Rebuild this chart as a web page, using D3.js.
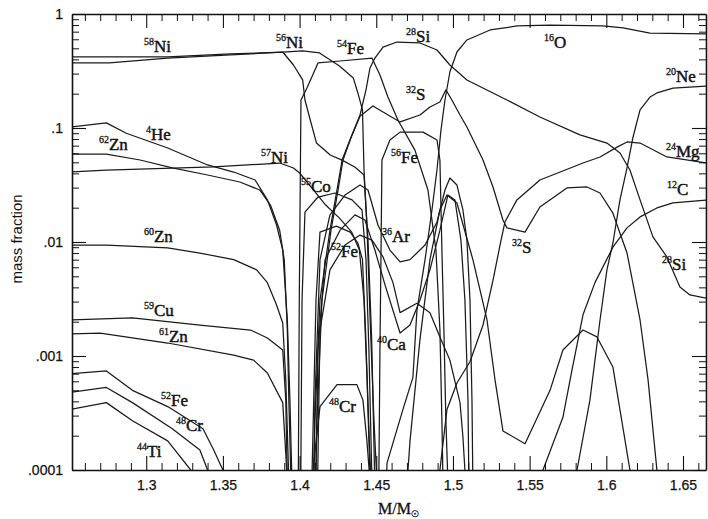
<!DOCTYPE html>
<html>
<head>
<meta charset="utf-8">
<script src="https://cdn.jsdelivr.net/npm/d3@7"></script>
<style>
  html, body { margin: 0; padding: 0; background: #fff; }
  svg { display: block; }
</style>
</head>
<body>
<svg id="chart" width="708" height="519"></svg>
<script>
// Mass-fraction profiles against enclosed mass M/M☉ (log scale).
// Each profile is a list of [mass coordinate, mass fraction] pairs.
const ni56 = [[1.251,0.42],[1.276,0.42],[1.314,0.42],[1.355,0.446],[1.389,0.464],[1.402,0.474],[1.413,0.455],[1.426,0.35],[1.435,0.275],[1.438,0.203],[1.441,0.144],[1.442,0.043],[1.444,0.0128],[1.446,0.0021],[1.4485,0.00027],[1.4504,0.00008],[1.452,1e-5]];
const ni58 = [[1.251,0.372],[1.276,0.372],[1.314,0.411],[1.355,0.437],[1.389,0.464],[1.396,0.357],[1.402,0.264],[1.4035,0.176],[1.407,0.117],[1.411,0.074],[1.420,0.058],[1.428,0.052],[1.436,0.0455],[1.442,0.0387],[1.4446,0.0104],[1.447,0.0014],[1.449,0.00008],[1.450,1e-5]];
const he4 = [[1.251,0.102],[1.274,0.111],[1.287,0.090],[1.314,0.0668],[1.340,0.0474],[1.357,0.0411],[1.371,0.035],[1.379,0.0234],[1.385,0.0141],[1.389,0.0085],[1.392,0.00207],[1.3937,0.00041],[1.395,0.00008],[1.396,1e-5]];
const zn62 = [[1.251,0.059],[1.274,0.059],[1.296,0.0524],[1.317,0.0446],[1.340,0.0387],[1.361,0.0336],[1.374,0.0286],[1.381,0.0211],[1.387,0.0127],[1.390,0.007],[1.392,0.00169],[1.393,0.00041],[1.3944,0.00008],[1.396,1e-5]];
const ni57 = [[1.251,0.0411],[1.274,0.0428],[1.344,0.0455],[1.387,0.0493],[1.396,0.0446],[1.400,0.0403],[1.409,0.0286],[1.417,0.0211],[1.426,0.0162],[1.434,0.0122],[1.439,0.0085],[1.442,0.0031],[1.444,0.00062],[1.446,0.00008],[1.447,1e-5]];
const zn60 = [[1.251,0.0094],[1.274,0.0094],[1.314,0.0089],[1.335,0.008],[1.357,0.007],[1.372,0.0057],[1.379,0.0044],[1.385,0.0028],[1.389,0.00195],[1.391,0.00062],[1.393,0.00008],[1.394,1e-5]];
const cu59 = [[1.251,0.00207],[1.291,0.00216],[1.335,0.00187],[1.368,0.00169],[1.379,0.00144],[1.389,0.00113],[1.391,0.00041],[1.392,0.00008],[1.393,1e-5]];
const zn61 = [[1.251,0.00156],[1.270,0.00159],[1.314,0.0013],[1.357,0.00102],[1.370,0.00092],[1.379,0.00071],[1.389,0.00039],[1.3905,0.00018],[1.392,0.00008],[1.393,1e-5]];
const fe52 = [[1.251,0.0007],[1.274,0.00074],[1.291,0.0005],[1.314,0.00036],[1.337,0.00023],[1.344,0.00015],[1.350,0.0001],[1.355,4e-5],[1.360,1e-5],[1.407,1e-5],[1.408,0.00008],[1.4107,0.0031],[1.4133,0.0122],[1.424,0.0138],[1.433,0.0122],[1.438,0.0098],[1.441,0.007],[1.443,0.00169],[1.445,0.00027],[1.4465,0.00008],[1.448,1e-5]];
const cr48 = [[1.251,0.00048],[1.274,0.00053],[1.291,0.00039],[1.317,0.00023],[1.335,0.00015],[1.340,0.0001],[1.345,1e-5],[1.408,1e-5],[1.4087,0.0001],[1.4133,0.00036],[1.4244,0.00056],[1.4374,0.00056],[1.4413,0.00041],[1.4439,0.00018],[1.4459,0.00008],[1.447,1e-5]];
const ti44 = [[1.251,0.00034],[1.274,0.00039],[1.291,0.00027],[1.314,0.00018],[1.329,0.0001],[1.336,1e-5]];
const fe54 = [[1.3985,1e-5],[1.3992,0.0001],[1.3998,0.0031],[1.4009,0.176],[1.4048,0.224],[1.412,0.372],[1.4264,0.387],[1.4472,0.411],[1.4524,0.292],[1.4576,0.187],[1.4642,0.117],[1.4752,0.064],[1.4837,0.0286],[1.4889,0.0085],[1.4915,0.00169],[1.4928,0.00027],[1.4935,0.00008],[1.495,1e-5]];
const fe56 = [[1.4511,1e-5],[1.4524,0.00113],[1.4531,0.0085],[1.4537,0.0524],[1.4589,0.0785],[1.4655,0.092],[1.4805,0.092],[1.4896,0.0785],[1.4915,0.0524],[1.4928,0.0085],[1.4941,0.00169],[1.4954,0.00027],[1.4967,0.00008],[1.498,1e-5]];
const co55 = [[1.4003,1e-5],[1.4016,0.0031],[1.4035,0.0183],[1.412,0.0248],[1.4231,0.0269],[1.4342,0.0234],[1.4407,0.0191],[1.4433,0.007],[1.4452,0.00113],[1.4472,0.00008],[1.449,1e-5]];
const si28 = [[1.4081,1e-5],[1.41,0.00027],[1.4133,0.0031],[1.4198,0.0127],[1.4244,0.0286],[1.4277,0.0524],[1.4329,0.079],[1.4394,0.13],[1.4433,0.216],[1.4459,0.336],[1.4491,0.411],[1.4544,0.513],[1.4635,0.568],[1.4785,0.557],[1.4896,0.483],[1.498,0.357],[1.5091,0.264],[1.5352,0.176],[1.5567,0.125],[1.5828,0.087],[1.6004,0.0738],[1.6089,0.0604],[1.6154,0.0428],[1.622,0.0234],[1.6304,0.0111],[1.6395,0.0074],[1.648,0.00403],[1.6545,0.00343],[1.666,0.0032]];
const s32 = [[1.4094,1e-5],[1.4113,0.00027],[1.4146,0.0031],[1.4205,0.0127],[1.4251,0.0286],[1.4283,0.0524],[1.4335,0.082],[1.4394,0.127],[1.4478,0.156],[1.4544,0.138],[1.4655,0.113],[1.4785,0.13],[1.485,0.153],[1.4915,0.169],[1.4954,0.216],[1.4993,0.176],[1.5046,0.13],[1.5091,0.102],[1.5196,0.0524],[1.5261,0.0304],[1.5326,0.0156],[1.5352,0.0133],[1.547,0.0122],[1.5567,0.0203],[1.5743,0.0298],[1.5874,0.0304],[1.5959,0.0269],[1.6043,0.0179],[1.6135,0.008],[1.622,0.00207],[1.6272,0.00062],[1.633,0.0001],[1.635,1e-5]];
const ar36 = [[1.4081,1e-5],[1.41,0.00041],[1.4133,0.007],[1.4198,0.0173],[1.4296,0.0258],[1.4394,0.0316],[1.4446,0.0286],[1.4511,0.0141],[1.4589,0.0085],[1.4655,0.0067],[1.472,0.007],[1.4818,0.0094],[1.4896,0.015],[1.4948,0.0286],[1.498,0.0364],[1.5026,0.0316],[1.5065,0.0191],[1.5091,0.0104],[1.5111,0.0031],[1.5124,0.00041],[1.5137,1e-5]];
const ar38 = [[1.4107,1e-5],[1.4133,0.00169],[1.4198,0.0057],[1.4296,0.0094],[1.4394,0.0115],[1.4472,0.0104],[1.4544,0.0074],[1.4609,0.0044],[1.4655,0.0024],[1.4765,0.0029],[1.485,0.0024],[1.4915,0.00147],[1.498,0.00092],[1.5046,0.00039],[1.5065,0.000195],[1.5078,0.0001],[1.5085,1e-5]];
const ca40 = [[1.4094,1e-5],[1.412,0.00113],[1.4166,0.007],[1.4264,0.0127],[1.4361,0.0173],[1.4426,0.0156],[1.4491,0.0085],[1.4557,0.0042],[1.4655,0.00159],[1.472,0.00187],[1.4785,0.0031],[1.485,0.0057],[1.4915,0.0127],[1.4967,0.0258],[1.5013,0.0234],[1.5052,0.0104],[1.5078,0.0031],[1.5098,0.00041],[1.5111,1e-5]];
const si30 = [[1.4655,1e-5],[1.472,0.00018],[1.4785,0.0014],[1.485,0.007],[1.4915,0.0191],[1.4961,0.0258],[1.5026,0.022],[1.513,0.007],[1.5222,0.00207],[1.5274,0.00062],[1.5326,0.00022],[1.547,0.00017],[1.5633,0.0005],[1.5717,0.00113],[1.5848,0.00169],[1.5939,0.00147],[1.6043,0.0008],[1.6154,0.0001],[1.6167,1e-5]];
const o16 = [[1.4544,1e-5],[1.457,0.000115],[1.4674,0.00034],[1.4739,0.00065],[1.4765,0.0025],[1.4818,0.007],[1.4863,0.0191],[1.4896,0.043],[1.4922,0.096],[1.4948,0.176],[1.498,0.31],[1.5026,0.464],[1.5091,0.592],[1.5242,0.724],[1.5417,0.785],[1.5633,0.80],[1.5978,0.785],[1.6109,0.754],[1.6285,0.681],[1.666,0.668]];
const mg24 = [[1.4889,1e-5],[1.4915,0.0001],[1.4961,0.00034],[1.5026,0.00058],[1.5111,0.00089],[1.5196,0.00187],[1.5261,0.0046],[1.5307,0.0094],[1.5339,0.015],[1.5417,0.0234],[1.5567,0.035],[1.5848,0.0493],[1.5959,0.0557],[1.607,0.068],[1.6135,0.0754],[1.622,0.0738],[1.6395,0.0557],[1.666,0.0493]];
const ne20 = [[1.5796,1e-5],[1.5809,0.0001],[1.5893,0.00041],[1.5959,0.00207],[1.6004,0.0057],[1.6043,0.0098],[1.6089,0.0234],[1.6135,0.0446],[1.6174,0.083],[1.622,0.144],[1.6285,0.187],[1.633,0.203],[1.6435,0.224],[1.666,0.234]];
const c12 = [[1.5567,1e-5],[1.5587,0.0001],[1.5717,0.00029],[1.5776,0.00075],[1.5848,0.0023],[1.5926,0.0044],[1.6043,0.009],[1.6135,0.0133],[1.622,0.0166],[1.633,0.0199],[1.6435,0.022],[1.666,0.0234]];

const profiles = [ni56, ni58, he4, zn62, ni57, zn60, cu59, zn61, fe52, cr48, ti44,
                  fe54, fe56, co55, si28, s32, ar36, ar38, ca40, si30, o16, mg24, ne20, c12];

// Isotope labels: [mass number, element, M, mass fraction at label baseline]
const isoLabels = [
  ["58","Ni",1.2985,0.464], ["56","Ni",1.3846,0.503], ["54","Fe",1.4244,0.446],
  ["28","Si",1.4694,0.568], ["16","O",1.5594,0.503], ["20","Ne",1.6389,0.253],
  ["32","S",1.4694,0.176], ["4","He",1.2998,0.0785], ["62","Zn",1.2692,0.064],
  ["57","Ni",1.3748,0.0493], ["56","Fe",1.4596,0.0493], ["24","Mg",1.6389,0.0557],
  ["55","Co",1.4009,0.0275], ["12","C",1.6396,0.0258], ["60","Zn",1.2985,0.01],
  ["36","Ar",1.4537,0.01], ["52","Fe",1.4205,0.0074], ["32","S",1.5385,0.008],
  ["28","Si",1.6363,0.0057], ["59","Cu",1.2985,0.00224], ["61","Zn",1.3083,0.00133],
  ["40","Ca",1.4505,0.00113], ["48","Cr",1.4192,0.000323], ["52","Fe",1.3096,0.000364],
  ["48","Cr",1.3194,0.00022], ["44","Ti",1.294,0.00013]
];

const xTicks = [1.3, 1.35, 1.4, 1.45, 1.5, 1.55, 1.6, 1.65];
const xTickLabels = ["1.3", "1.35", "1.4", "1.45", "1.5", "1.55", "1.6", "1.65"];
const yTicks = [1, 0.1, 0.01, 0.001, 0.0001];
const yTickLabels = ["1", ".1", ".01", ".001", ".0001"];

const svg = d3.select("#chart");
const L = 72, R = 706, T = 14, B = 470;

const x = d3.scaleLinear().domain([1.2516, 1.665]).range([L, R]);
const y = d3.scaleLog().domain([1e-4, 1]).range([B, T]);

const xMinor = d3.range(126, 167).map(v => v / 100).filter(v => !xTicks.some(t => Math.abs(t - v) < 1e-9));
const yMinor = [];
[1e-4, 1e-3, 1e-2, 1e-1].forEach(dec => { for (let k = 2; k <= 9; k++) yMinor.push(k * dec); });

svg.append("defs").append("clipPath").attr("id", "plotClip")
  .append("rect").attr("x", L).attr("y", T).attr("width", R - L).attr("height", B - T);

// Profiles
const line = d3.line().x(d => x(d[0])).y(d => y(d[1]));
svg.append("g").attr("clip-path", "url(#plotClip)")
  .selectAll("path").data(profiles).join("path")
  .attr("d", line)
  .attr("fill", "none")
  .attr("stroke", "#1a1a1a")
  .attr("stroke-width", 1.25)
  .attr("stroke-linejoin", "round");

// Axes with inward ticks on all four sides
function styleAxis(g) {
  g.selectAll("path.domain").attr("stroke", "#111").attr("stroke-width", 1.6);
  g.selectAll(".tick line").attr("stroke", "#111").attr("stroke-width", 1.1);
  g.selectAll("text").attr("fill", "#111").attr("font-family", "Liberation Sans, Arial, sans-serif")
    .attr("font-size", 14).attr("stroke", "#111").attr("stroke-width", 0.25);
}
function minor(g) { g.select("path.domain").remove(); g.selectAll(".tick line").attr("stroke", "#111").attr("stroke-width", 1); }

svg.append("g").attr("transform", `translate(0,${B})`)
  .call(d3.axisBottom(x).tickValues(xMinor).tickSize(-7).tickSizeOuter(0).tickFormat("")).call(minor);
svg.append("g").attr("transform", `translate(0,${T})`)
  .call(d3.axisTop(x).tickValues(xMinor).tickSize(-7).tickSizeOuter(0).tickFormat("")).call(minor);
svg.append("g").attr("transform", `translate(${L},0)`)
  .call(d3.axisLeft(y).tickValues(yMinor).tickSize(-7).tickSizeOuter(0).tickFormat("")).call(minor);
svg.append("g").attr("transform", `translate(${R},0)`)
  .call(d3.axisRight(y).tickValues(yMinor).tickSize(-7).tickSizeOuter(0).tickFormat("")).call(minor);

svg.append("g").attr("transform", `translate(0,${B})`)
  .call(d3.axisBottom(x).tickValues(xTicks).tickSize(-14).tickSizeOuter(0).tickPadding(10)
    .tickFormat((d, i) => xTickLabels[i])).call(styleAxis);
svg.append("g").attr("transform", `translate(0,${T})`)
  .call(d3.axisTop(x).tickValues(xTicks).tickSize(-14).tickSizeOuter(0).tickFormat("")).call(styleAxis);
svg.append("g").attr("transform", `translate(${L},0)`)
  .call(d3.axisLeft(y).tickValues(yTicks).tickSize(-14).tickSizeOuter(0).tickPadding(9)
    .tickFormat((d, i) => yTickLabels[i])).call(styleAxis);
svg.append("g").attr("transform", `translate(${R},0)`)
  .call(d3.axisRight(y).tickValues(yTicks).tickSize(-14).tickSizeOuter(0).tickFormat("")).call(styleAxis);

// Isotope labels with superscript mass numbers
const lab = svg.append("g").attr("font-family", "Liberation Serif, Times New Roman, serif")
  .attr("fill", "#111").attr("stroke", "#111").attr("stroke-width", 0.45);
isoLabels.forEach(([a, el, m, v]) => {
  const t = lab.append("text").attr("x", x(m)).attr("y", y(v));
  t.append("tspan").attr("font-size", 10).attr("dy", -7).attr("stroke-width", 0.3).text(a);
  t.append("tspan").attr("font-size", 17).attr("dy", 7).text(el);
});

// Axis titles
svg.append("text")
  .attr("transform", `translate(22,239) rotate(-90)`)
  .attr("text-anchor", "middle")
  .attr("font-family", "Liberation Sans, Arial, sans-serif")
  .attr("font-size", 15).attr("fill", "#111")
  .text("mass fraction");

const xt = svg.append("text").attr("x", 378).attr("y", 514)
  .attr("font-family", "Liberation Serif, Times New Roman, serif").attr("fill", "#111")
  .attr("stroke", "#111").attr("stroke-width", 0.3);
xt.append("tspan").attr("font-size", 16).text("M/M");
xt.append("tspan").attr("font-size", 9).attr("dy", 3).attr("font-family", "DejaVu Sans, sans-serif").text("☉");
</script>
</body>
</html>
